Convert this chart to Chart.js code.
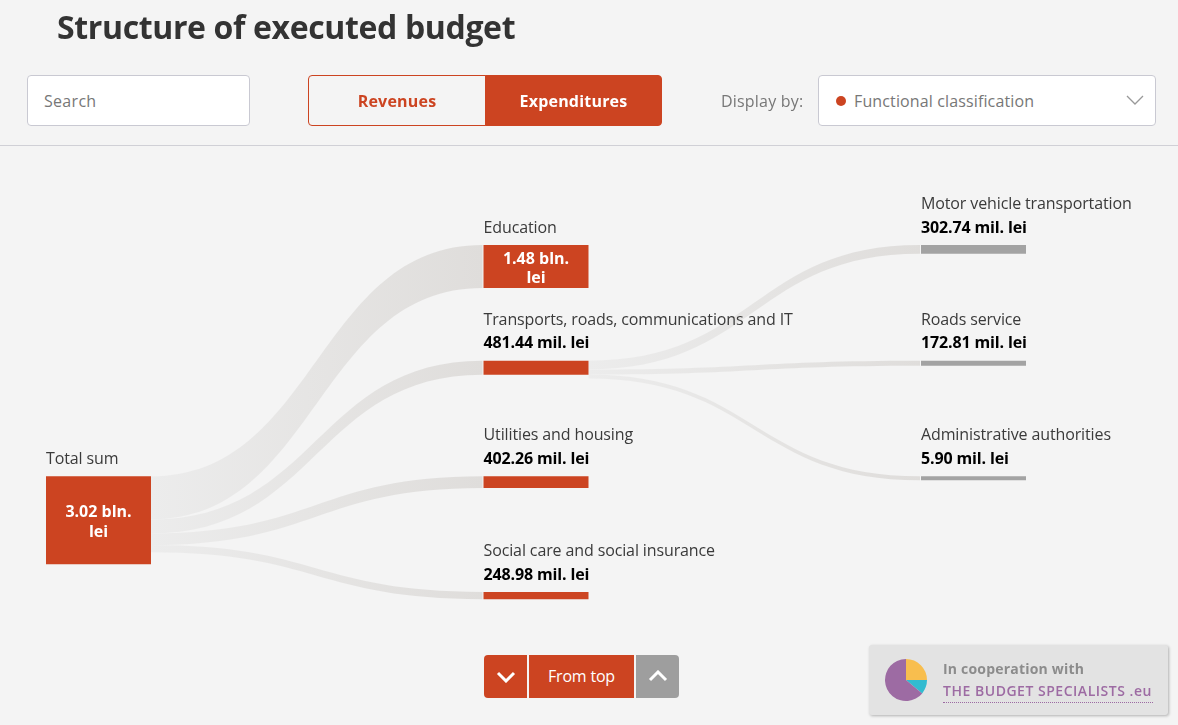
<!DOCTYPE html>
<html>
<head>
<meta charset="utf-8">
<title>Structure of executed budget</title>
<script src="https://cdn.jsdelivr.net/npm/chart.js@4"></script>
<style>
  html, body { margin: 0; padding: 0; width: 1178px; height: 725px; overflow: hidden; background: #f4f4f4; font-family: "Open Sans", sans-serif; }
  .abs { position: absolute; box-sizing: border-box; }
  #flow { position: absolute; left: 0; top: 0; }
  h1 { position: absolute; left: 57px; top: 5px; margin: 0; font-size: 32px; line-height: 44px; font-weight: 700; color: #333; letter-spacing: -0.36px; white-space: nowrap; }
  .box { background: #fff; border: 1px solid #c9c9d2; border-radius: 4px; top: 75px; height: 51px; line-height: 51px; font-size: 16px; color: #777; white-space: nowrap; }
  .tab { top: 75px; height: 51px; line-height: 51px; text-align: center; font-size: 16px; font-weight: 700; border: 1px solid #cc4421; letter-spacing: .2px; }
  .btn { top: 655px; height: 43px; line-height: 43px; text-align: center; color: #fff; font-size: 16px; letter-spacing: -.2px; }
  .btn svg, .box svg { position: absolute; }
  #badge { left: 869px; top: 645px; width: 299px; height: 70px; background: #e3e3e3; border-radius: 3px; box-shadow: 1px 1px 3px rgba(0,0,0,.28); }
  #badge-pie { position: absolute; left: 14px; top: 11.5px; }
</style>
</head>
<body>
<canvas id="flow" width="1178" height="725"></canvas>

<h1>Structure of executed budget</h1>
<div class="abs box" style="left:27px;width:223px;padding-left:16px;letter-spacing:.3px">Search</div>
<div class="abs tab" style="left:308px;width:178px;color:#cc4421;border-radius:4px 0 0 4px">Revenues</div>
<div class="abs tab" style="left:485px;width:177px;color:#fff;background:#cc4421;border-radius:0 4px 4px 0">Expenditures</div>
<div class="abs" style="left:721px;top:76px;line-height:51px;font-size:16px;color:#777;letter-spacing:.2px">Display by:</div>
<div class="abs box" style="left:818px;width:338px;padding-left:35px;letter-spacing:.13px">
  <span class="abs" style="left:17px;top:20px;width:10px;height:10px;border-radius:50%;background:#cc4421"></span>
  Functional classification
  <svg style="left:307px;top:19px" width="18" height="10" viewBox="0 0 18 10"><path d="M1 1 L9 9 L17 1" fill="none" stroke="#999" stroke-width="1.3"/></svg>
</div>
<div class="abs" style="left:0;top:145px;width:1178px;height:1px;background:#d0d0d6"></div>

<div class="abs btn" style="left:484px;width:43px;background:#cc4421;border-radius:4px 0 0 4px">
  <svg style="left:12px;top:16px" width="20" height="12" viewBox="0 0 20 12"><path d="M2 2 L10 10 L18 2" fill="none" stroke="#fff" stroke-width="3"/></svg>
</div>
<div class="abs btn" style="left:529px;width:105px;background:#cc4421">From top</div>
<div class="abs btn" style="left:636px;width:43px;background:#9e9e9e;border-radius:0 4px 4px 0">
  <svg style="left:12px;top:15px" width="20" height="12" viewBox="0 0 20 12"><path d="M2 10 L10 2 L18 10" fill="none" stroke="#fff" stroke-width="3"/></svg>
</div>

<div class="abs" id="badge">
  <canvas id="badge-pie" width="46" height="46"></canvas>
  <div class="abs" style="left:74px;top:14px;font-size:14px;line-height:20px;font-weight:700;color:#8c8c8c;letter-spacing:.2px;white-space:nowrap">In cooperation with</div>
  <div class="abs" style="left:74px;top:36px;font-size:14px;line-height:20px;font-weight:600;color:#9d6ba3;letter-spacing:.52px;white-space:nowrap;border-bottom:1px dotted #9d6ba3;height:22px;width:210px">THE BUDGET SPECIALISTS .eu</div>
</div>

<script>
const columnLabels = ['Total', 'Functions', 'Subfunctions'];

const nodeNames = [
  'Total sum',
  'Education',
  'Transports, roads, communications and IT',
  'Utilities and housing',
  'Social care and social insurance',
  'Motor vehicle transportation',
  'Roads service',
  'Administrative authorities'
];
const nodeValues = [3020, 1480, 481.44, 402.26, 248.98, 302.74, 172.81, 5.90];
const nodeValueLabels = [
  '3.02 bln. lei', '1.48 bln. lei', '481.44 mil. lei', '402.26 mil. lei',
  '248.98 mil. lei', '302.74 mil. lei', '172.81 mil. lei', '5.90 mil. lei'
];
const nodeColumns = [0, 1, 1, 1, 1, 2, 2, 2];
const nodeRows = [2, 0, 1, 2, 3, 0, 1, 2];

// links are node indexes
const linkSources = [0, 0, 0, 0, 2, 2, 2];
const linkTargets = [1, 2, 3, 4, 5, 6, 7];

const badgeShares = [25, 11, 64];

const ROW_STEP = 3975;   // mil. lei of axis per row
const AXIS_MAX = 12200;
const RED = '#cc4421';
const GREY = '#a3a3a3';

const datasets = nodeNames.map((name, i) => {
  const top = nodeRows[i] * ROW_STEP;
  return {
    label: name,
    data: [{ x: columnLabels[nodeColumns[i]], y: [top, top + nodeValues[i]] }],
    backgroundColor: nodeColumns[i] === 2 ? GREY : RED,
    clip: false
  };
});

// draws the curved links under the bars, from the bars' own geometry
const linksPlugin = {
  id: 'links',
  beforeDatasetsDraw(chart) {
    const ctx = chart.ctx;
    const used = {};
    linkSources.forEach((s, i) => {
      const a = chart.getDatasetMeta(s).data[0];
      const b = chart.getDatasetMeta(linkTargets[i]).data[0];
      const thick = Math.abs(b.base - b.y);
      const x0 = a.x + a.width / 2;
      const x1 = b.x - b.width / 2 - 1;
      const y0 = Math.min(a.y, a.base) + (used[s] || 0);
      const y1 = Math.min(b.y, b.base);
      used[s] = (used[s] || 0) + thick;
      const mid = (x0 + x1) / 2;
      const grad = ctx.createLinearGradient(x0, 0, x1, 0);
      grad.addColorStop(0, '#ececec');
      grad.addColorStop(1, '#dfdddb');
      ctx.save();
      ctx.fillStyle = grad;
      ctx.beginPath();
      ctx.moveTo(x0, y0);
      ctx.bezierCurveTo(mid, y0, mid, y1, x1, y1);
      ctx.lineTo(x1, y1 + thick);
      ctx.bezierCurveTo(mid, y1 + thick, mid, y0 + thick, x0, y0 + thick);
      ctx.closePath();
      ctx.fill();
      ctx.restore();
    });
  }
};

// names above the bars, sums above or inside them
const labelsPlugin = {
  id: 'nodeLabels',
  afterDatasetsDraw(chart) {
    const ctx = chart.ctx;
    ctx.save();
    ctx.textBaseline = 'middle';
    nodeNames.forEach((name, i) => {
      const bar = chart.getDatasetMeta(i).data[0];
      const left = bar.x - bar.width / 2;
      const top = Math.min(bar.y, bar.base);
      const h = Math.abs(bar.base - bar.y);
      const inside = h > 30;
      ctx.textAlign = 'left';
      ctx.font = '16px "Open Sans"';
      ctx.letterSpacing = '-0.12px';
      ctx.fillStyle = '#3a3a3a';
      ctx.fillText(name, left, top - (inside ? 17 : 40.5));
      ctx.font = '700 16px "Open Sans"';
      if (inside) {
        const parts = nodeValueLabels[i].split(' ');
        ctx.letterSpacing = '0px';
        ctx.textAlign = 'center';
        ctx.fillStyle = '#fff';
        ctx.fillText(parts[0] + ' ' + parts[1], bar.x, top + h / 2 - 7.5);
        ctx.fillText(parts[2], bar.x, top + h / 2 + 12);
      } else {
        ctx.letterSpacing = '-0.14px';
        ctx.fillStyle = '#000';
        ctx.fillText(nodeValueLabels[i], left, top - 17);
      }
    });
    ctx.restore();
  }
};

document.fonts.load('700 16px "Open Sans"').finally(() => {
  new Chart(document.getElementById('flow'), {
    type: 'bar',
    data: { labels: columnLabels, datasets },
    plugins: [linksPlugin, labelsPlugin],
    options: {
      responsive: false,
      animation: false,
      layout: { padding: { left: 98.5, right: 204.5, top: 245, bottom: 125 } },
      datasets: { bar: { grouped: false, barThickness: 105, minBarLength: 4, inflateAmount: 0 } },
      plugins: { legend: { display: false }, tooltip: { enabled: false } },
      scales: {
        x: { display: false, offset: false, grid: { display: false } },
        y: { display: false, reverse: true, min: 0, max: AXIS_MAX, grid: { display: false } }
      }
    }
  });

  new Chart(document.getElementById('badge-pie'), {
    type: 'pie',
    data: {
      labels: ['Yellow', 'Blue', 'Purple'],
      datasets: [{ data: badgeShares, backgroundColor: ['#f8be4e', '#33bbd0', '#9d6ba3'], borderWidth: 0 }]
    },
    options: {
      responsive: false,
      animation: false,
      layout: { padding: 2 },
      plugins: { legend: { display: false }, tooltip: { enabled: false } }
    }
  });
});
</script>
</body>
</html>
